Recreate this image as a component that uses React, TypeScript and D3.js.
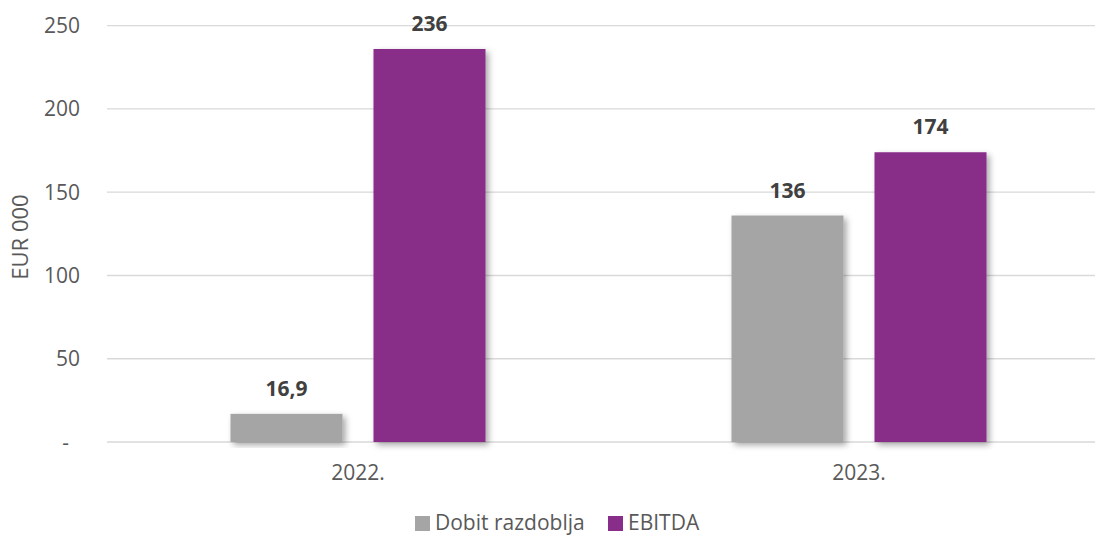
import React from 'react';
import * as d3 from 'd3';

const categories = ['2022.', '2023.'];
const seriesNames = ['Dobit razdoblja', 'EBITDA'];
const dobitValues = [16.9, 136];
const ebitdaValues = [236, 174];
const valueLabels = [['16,9', '236'], ['136', '174']];
const yTicks = [0, 50, 100, 150, 200, 250];
const seriesColors = ['#a5a5a5', '#882d89'];

const width = 1095;
const height = 537;
const font = "'Open Sans', 'DejaVu Sans', sans-serif";

const App: React.FC = () => {
  const x0 = d3.scaleBand<string>().domain(categories).range([107.5, 1109.5]).padding(0);
  const groupWidth = 255;
  const x1 = d3.scaleBand<string>().domain(seriesNames).range([0, groupWidth]).paddingInner(0.2168).paddingOuter(0);
  const y = d3.scaleLinear().domain([0, 250]).range([442, 25.7]);

  const values = [dobitValues, ebitdaValues];

  return (
    <svg width={width} height={height} style={{ position: 'absolute', left: 0, top: 0, background: '#fff' }}>
      <defs>
        <filter id="shadow" x="-20%" y="-20%" width="140%" height="140%">
          <feDropShadow dx="3" dy="3" stdDeviation="3" floodColor="#000" floodOpacity="0.35" />
        </filter>
      </defs>

      {/* grid */}
      {yTicks.map(t => (
        <line key={t} x1={107} x2={width} y1={y(t)} y2={y(t)} stroke="#d9d9d9" strokeWidth={1.3} />
      ))}

      {/* y tick labels */}
      {yTicks.map(t => (
        <text key={t} x={t === 0 ? 69 : 80} y={y(t) + 7.5} textAnchor="end" fontFamily={font} fontSize={21} fill="#595959">
          {t === 0 ? '-' : t}
        </text>
      ))}

      <text transform={`translate(28,237) rotate(-90)`} textAnchor="middle" fontFamily={font} fontSize={22} fill="#595959">
        EUR 000
      </text>

      {/* bars */}
      {categories.map((c, ci) => {
        const gx = x0(c)! + (x0.bandwidth() - groupWidth) / 2;
        return (
          <g key={c} transform={`translate(${gx},0)`}>
            {seriesNames.map((s, si) => {
              const v = values[si][ci];
              return (
                <g key={s}>
                  <rect x={x1(s)} y={y(v)} width={x1.bandwidth()} height={y(0) - y(v)} fill={seriesColors[si]} filter="url(#shadow)" />
                  <text x={x1(s)! + x1.bandwidth() / 2} y={y(v) - 18} textAnchor="middle" fontFamily={font} fontSize={21} fontWeight="bold" fill="#404040">
                    {valueLabels[ci][si]}
                  </text>
                </g>
              );
            })}
          </g>
        );
      })}

      {/* x labels */}
      {categories.map(c => (
        <text key={c} x={x0(c)! + x0.bandwidth() / 2} y={480} textAnchor="middle" fontFamily={font} fontSize={21} fill="#595959">
          {c}
        </text>
      ))}

      {/* legend */}
      <g>
        <rect x={415} y={516} width={15} height={15} fill={seriesColors[0]} />
        <text x={435} y={530} fontFamily={font} fontSize={21} fill="#595959">{seriesNames[0]}</text>
        <rect x={608} y={516} width={15} height={15} fill={seriesColors[1]} />
        <text x={628} y={530} fontFamily={font} fontSize={21} fill="#595959">{seriesNames[1]}</text>
      </g>
    </svg>
  );
};

export default App;
